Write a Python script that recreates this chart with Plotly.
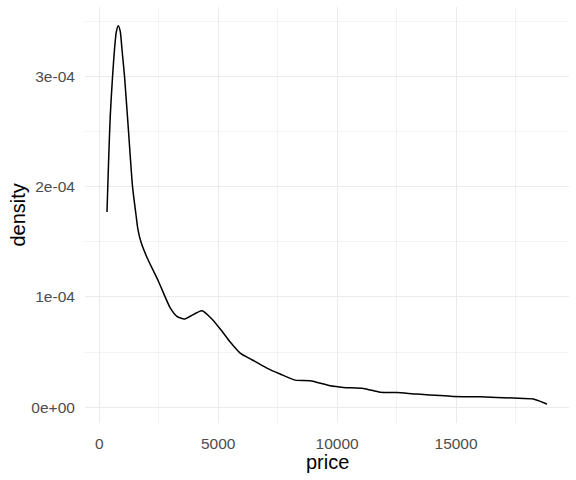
import plotly.graph_objects as go

# data
price = [326, 391, 462, 559, 643, 714, 798, 882, 954, 1063, 1231, 1399, 1542, 1620, 1752,
         2003, 2492, 2983, 3265, 3585, 4315, 4735, 5155, 5505, 5925, 6416, 7046,
         7606, 8236, 8866, 9707, 10265, 11106, 11808, 12510, 13350, 14888,
         16010, 17410, 18250, 18783, 18823]
density_e4 = [1.77, 2.22, 2.64, 3.0, 3.25, 3.40, 3.46, 3.41, 3.25, 3.0, 2.5, 2.0, 1.75, 1.62, 1.5,
              1.36, 1.14, 0.9, 0.824, 0.80, 0.875, 0.80, 0.69, 0.59, 0.49, 0.43, 0.354,
              0.30, 0.245, 0.24, 0.194, 0.179, 0.170, 0.136, 0.132, 0.118, 0.097,
              0.094, 0.082, 0.073, 0.031, 0.028]
density = [d * 1e-4 for d in density_e4]

x_ticks = [0, 5000, 10000, 15000]
x_ticktext = ["0", "5000", "10000", "15000"]
x_minor = [2500, 7500, 12500, 17500]
y_ticks = [0, 1e-4, 2e-4, 3e-4]
y_ticktext = ["0e+00", "1e-04", "2e-04", "3e-04"]
y_minor = [0.5e-4, 1.5e-4, 2.5e-4, 3.5e-4]

W, H = 576, 480
L, R, T, B = 84.5, 7, 7, 57

fig = go.Figure()
fig.add_trace(go.Scatter(x=price, y=density, mode="lines",
                         line=dict(color="black", width=1.5, shape="spline", smoothing=0.6),
                         hoverinfo="skip", showlegend=False))

grid = "#EBEBEB"
fig.update_layout(
    template="none",
    width=W, height=H,
    margin=dict(l=L, r=R, t=T, b=B, pad=0, autoexpand=False),
    paper_bgcolor="white", plot_bgcolor="white",
    font=dict(family="Liberation Sans, Arial, sans-serif", color="#4D4D4D", size=15.5),
    xaxis=dict(range=[-599, 19748], tickvals=x_ticks, ticktext=x_ticktext,
               automargin=False,
               showgrid=True, gridcolor=grid, gridwidth=1, zeroline=False,
               showline=False, ticks="outside", ticklen=6, tickcolor="rgba(0,0,0,0)",
               minor=dict(tickmode="array", tickvals=x_minor, showgrid=True,
                          gridcolor=grid, gridwidth=0.6),
               tickfont=dict(size=15.5, color="#4D4D4D")),
    yaxis=dict(range=[-1.44e-5, 3.63e-4], tickvals=y_ticks, ticktext=y_ticktext,
               automargin=False,
               showgrid=True, gridcolor=grid, gridwidth=1, zeroline=False,
               showline=False, ticks="outside", ticklen=6, tickcolor="rgba(0,0,0,0)",
               minor=dict(tickmode="array", tickvals=y_minor, showgrid=True,
                          gridcolor=grid, gridwidth=0.6),
               tickfont=dict(size=15.5, color="#4D4D4D")),
    annotations=[
        dict(text="price", xref="paper", yref="paper", x=0.5, y=0, yshift=-39,
             xanchor="center", yanchor="middle", showarrow=False,
             font=dict(size=20, color="black")),
        dict(text="density", xref="paper", yref="paper", x=0, y=0.5, xshift=-67.5,
             xanchor="center", yanchor="middle", textangle=-90, showarrow=False,
             font=dict(size=20, color="black")),
    ],
)

fig.write_html("out.html", config={"displayModeBar": False, "staticPlot": True},
               post_script="document.body.style.margin='0';")
